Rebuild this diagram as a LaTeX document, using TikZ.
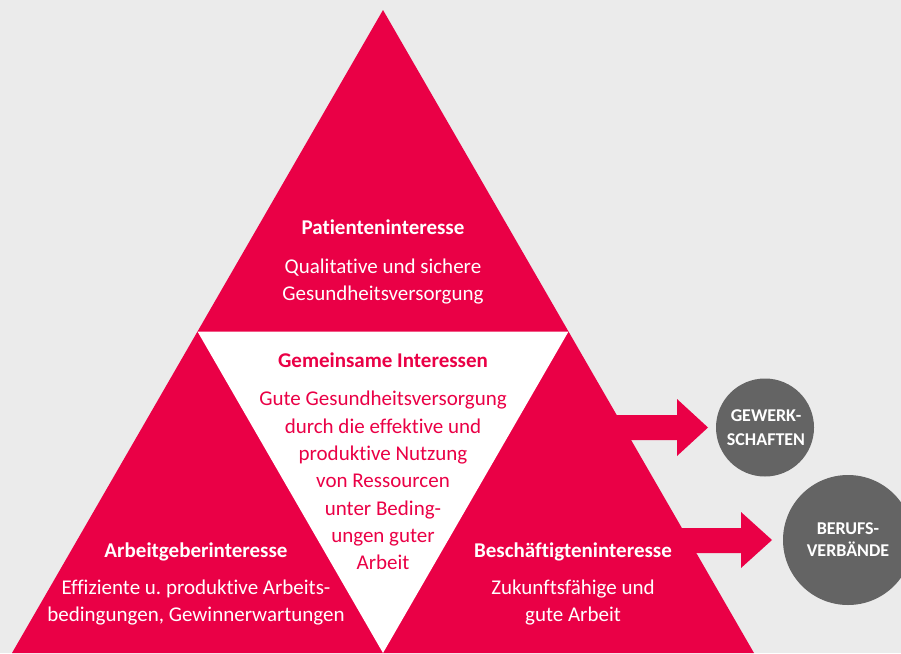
\documentclass[tikz,border=0pt]{standalone}
\usepackage{fontspec}
\setmainfont{Carlito}[Ligatures={NoCommon}]
\frenchspacing
\begin{document}
\definecolor{bg}{HTML}{EBEBEB}
\definecolor{crimson}{HTML}{EA0046}
\definecolor{slate}{HTML}{646464}
\begin{tikzpicture}[x=1pt,y=-1pt,
  body/.style={font=\fontsize{21}{24}\selectfont, anchor=base, inner sep=0pt},
  head/.style={font=\fontsize{21}{24}\selectfont\bfseries, anchor=base, inner sep=0pt},
  white text/.style={text=white},
  red text/.style={text=crimson},
  badge/.style={circle, fill=slate, inner sep=0pt},
  badgetext/.style={font=\fontsize{18}{24}\selectfont\bfseries, text=white, anchor=base, inner sep=0pt},
  fatarrow/.style={fill=crimson}]
% canvas
\fill[bg] (0,0) rectangle (901,653);
\useasboundingbox (0,0) rectangle (901,653);

% corner points of the outer triangle and its medial triangle
\coordinate (apex) at (383,10);
\coordinate (bl) at (12,653);
\coordinate (br) at (754,653);
\coordinate (ml) at (197.5,331.5);
\coordinate (mr) at (568.5,331.5);
\coordinate (mb) at (383,653);

% block arrows towards the two circles
\fill[fatarrow] (605,415) -- (677,415) -- (677,399) -- (708,427.5) -- (677,456) -- (677,440) -- (605,440) -- cycle;
\fill[fatarrow] (680,528) -- (741,528) -- (741,512) -- (772,540) -- (741,568) -- (741,553) -- (680,553) -- cycle;

% outer triangle and white centre
\fill[crimson] (apex) -- (br) -- (bl) -- cycle;
\fill[white] (ml) -- (mr) -- (mb) -- cycle;

% circles
\node[badge, minimum size=98pt] (gew) at (765,427.5) {};
\node[badge, minimum size=130pt] (ber) at (848,540) {};

% top: patients
\node[head, white text] (pt) at (383,234) {Patienteninteresse};
\node[body, white text] (pt1) at (383,273) {Qualitative und sichere};
\node[body, white text] (pt2) at (383,300) {Gesundheitsversorgung};

% centre: common interests
\node[head, red text] (gm) at (383,367) {Gemeinsame Interessen};
\node[body, red text] (gm1) at (383,405) {Gute Gesundheitsversorgung};
\node[body, red text] (gm2) at (383,433) {durch die effektive und};
\node[body, red text] (gm3) at (383,460) {produktive Nutzung};
\node[body, red text] (gm4) at (383,487) {von Ressourcen};
\node[body, red text] (gm5) at (383,515) {unter Beding-};
\node[body, red text] (gm6) at (383,542) {ungen guter};
\node[body, red text] (gm7) at (383,569) {Arbeit};

% left: employers
\node[head, white text] (ag) at (196,557) {Arbeitgeberinteresse};
\node[body, white text] (ag1) at (196,594) {Effiziente u. produktive Arbeits-};
\node[body, white text] (ag2) at (196,621) {bedingungen, Gewinnerwartungen};

% right: employees
\node[head, white text] (bs) at (573,557) {Beschäftigteninteresse};
\node[body, white text] (bs1) at (573,594) {Zukunftsfähige und};
\node[body, white text] (bs2) at (573,621) {gute Arbeit};

% circle labels
\node[badgetext] (gewa) at (766,421.5) {GEWERK-};
\node[badgetext] (gewb) at (766,445) {SCHAFTEN};
\node[badgetext] (bera) at (848,534) {BERUFS-};
\node[badgetext] (berb) at (848,556) {VERBÄNDE};
\end{tikzpicture}
\end{document}
